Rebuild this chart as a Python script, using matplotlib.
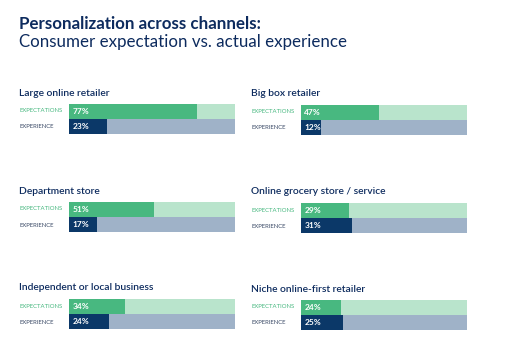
import matplotlib
matplotlib.use("Agg")
import matplotlib.pyplot as plt

plt.rcParams['font.family'] = ['Lato', 'DejaVu Sans']

# data
channels = ["Large online retailer", "Big box retailer",
            "Department store", "Online grocery store / service",
            "Independent or local business", "Niche online-first retailer"]
expectations = [77, 47, 51, 29, 34, 24]
experience = [23, 12, 17, 31, 24, 25]
row_names = ["EXPECTATIONS", "EXPERIENCE"]

navy = "#0d2b5e"
green = "#48b880"
green_light = "#b9e4cc"
dark = "#0b3868"
grey_blue = "#9fb2c8"

W, H = 512, 361
fig = plt.figure(figsize=(W / 100, H / 100), dpi=100)
fig.patch.set_facecolor("white")

fig.text(19 / W, 1 - 24 / H, "Personalization across channels:", fontsize=12.2,
         fontweight="bold", color=navy, va="center", ha="left")
fig.text(19 / W, 1 - 42 / H, "Consumer expectation vs. actual experience",
         fontsize=12.2, color=navy, va="center", ha="left")

# panel positions in pixels: (label x, bar left)
panel_x = [(19, 69), (251, 301)]
panel_top = [104, 202, 299]

for i, name in enumerate(channels):
    lx, bx = panel_x[i % 2]
    top = panel_top[i // 2] + (1 if i % 2 else 0)
    bar_w, bar_h = 166, 30
    ax = fig.add_axes([bx / W, 1 - (top + bar_h) / H, bar_w / W, bar_h / H])
    ax.barh([1, 0], [100, 100], height=0.94, color=[green_light, grey_blue])
    ax.barh([1, 0], [expectations[i], experience[i]], height=0.94,
            color=[green, dark])
    ax.set_xlim(0, 100)
    ax.set_ylim(-0.5, 1.5)
    ax.axis("off")
    for y, v in zip([1, 0], [expectations[i], experience[i]]):
        ax.text(2, y, f"{v}%", color="white", fontsize=6, fontweight="bold",
                va="center", ha="left")
    fig.text(lx / W, 1 - (top - 11) / H, name, fontsize=7.4, color=navy,
             fontweight="semibold", va="center", ha="left")
    fig.text(lx / W, 1 - (top + 7) / H, row_names[0], fontsize=4.3,
             color=green, va="center", ha="left")
    fig.text(lx / W, 1 - (top + 23) / H, row_names[1], fontsize=4.3,
             color="#3a4a66", va="center", ha="left")

fig.savefig("out.png", dpi=100)
